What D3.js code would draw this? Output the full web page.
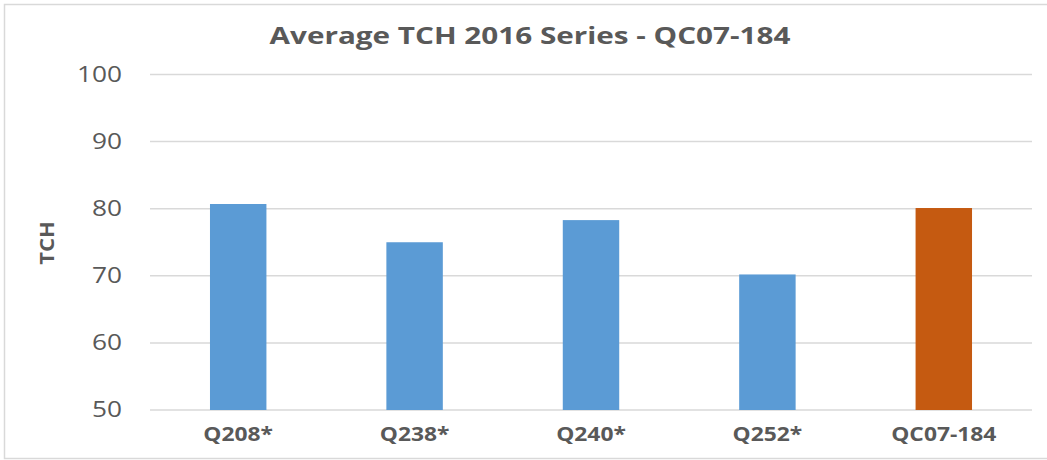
<!DOCTYPE html>
<html>
<head>
<meta charset="utf-8">
<script src="https://cdnjs.cloudflare.com/ajax/libs/d3/7.8.5/d3.min.js"></script>
<style>
body { margin: 0; background: #fff; }
text { font-family: "Open Sans", "Liberation Sans", sans-serif; fill: #595959; }
</style>
</head>
<body>
<script>
var categories = ["Q208*", "Q238*", "Q240*", "Q252*", "QC07-184"];
var values = [80.7, 75.0, 78.3, 70.2, 80.1];
var colors = ["#5b9bd5", "#5b9bd5", "#5b9bd5", "#5b9bd5", "#c55a11"];
var yTicks = [50, 60, 70, 80, 90, 100];
var title = "Average TCH 2016 Series - QC07-184";

var width = 1047, height = 460;
var mLeft = 150, mRight = 1032, mTop = 74.5, mBottom = 410;

// the reference text looks stretched sideways, so widen each text a bit
function stretch(sel, k) {
    sel.each(function() {
        var w = this.getComputedTextLength();
        d3.select(this).attr("textLength", w * k).attr("lengthAdjust", "spacingAndGlyphs");
    });
}

var svg = d3.select("body").append("svg").attr("width", width).attr("height", height);

// chart frame
svg.append("rect")
    .attr("x", 4.5).attr("y", 4.5)
    .attr("width", 1060).attr("height", 454)
    .attr("fill", "#fff").attr("stroke", "#d9d9d9").attr("stroke-width", 1.5);

var x = d3.scaleBand().domain(categories).range([mLeft, mRight]).paddingInner(0.68).paddingOuter(0.34);
var y = d3.scaleLinear().domain([50, 100]).range([mBottom, mTop]);

// gridlines
svg.append("g").selectAll("line")
    .data(yTicks)
    .enter().append("line")
        .attr("x1", mLeft).attr("x2", mRight)
        .attr("y1", function(d){ return y(d); })
        .attr("y2", function(d){ return y(d); })
        .attr("stroke", "#d9d9d9").attr("stroke-width", 1.5);

// y tick labels
var yAxis = svg.append("g")
    .attr("transform", "translate(" + mLeft + ",0)")
    .call(d3.axisLeft(y).tickValues(yTicks).tickSize(0).tickPadding(28));
yAxis.select(".domain").remove();
yAxis.selectAll("text").attr("font-size", "21px").attr("fill", "#595959")
    .style("font-family", "'Open Sans', sans-serif")
    .call(stretch, 1.25);

// bars
svg.append("g").selectAll("rect")
    .data(values)
    .enter().append("rect")
        .attr("x", function(d, i){ return x(categories[i]); })
        .attr("width", x.bandwidth())
        .attr("y", function(d){ return y(d); })
        .attr("height", function(d){ return y(50) - y(d); })
        .attr("fill", function(d, i){ return colors[i]; });

// x labels
var xAxis = svg.append("g")
    .attr("transform", "translate(0," + mBottom + ")")
    .call(d3.axisBottom(x).tickSize(0).tickPadding(18));
xAxis.select(".domain").remove();
xAxis.selectAll("text").attr("font-size", "19px").attr("font-weight", "bold").attr("fill", "#595959")
    .style("font-family", "'Open Sans', sans-serif")
    .call(stretch, 1.2);

// title
svg.append("text")
    .attr("x", 530).attr("y", 44)
    .attr("text-anchor", "middle")
    .attr("font-size", "23px").attr("font-weight", "bold")
    .text(title)
    .call(stretch, 1.29);

// y axis title
svg.append("text")
    .attr("transform", "translate(54,243) rotate(-90)")
    .attr("text-anchor", "middle")
    .attr("font-size", "20px").attr("font-weight", "bold")
    .text("TCH")
    .call(stretch, 1.1);
</script>
</body>
</html>
